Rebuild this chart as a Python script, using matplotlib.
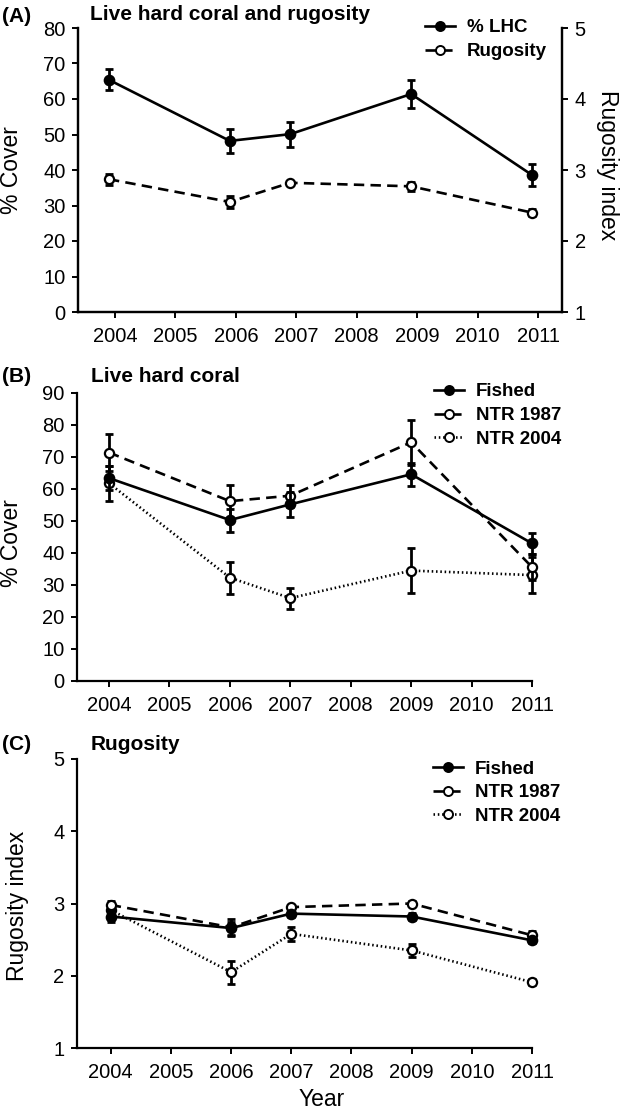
import matplotlib
matplotlib.use("Agg")
import matplotlib.pyplot as plt
from matplotlib.lines import Line2D
import numpy as np

plt.rcParams['font.family'] = ['Liberation Sans', 'DejaVu Sans']
plt.rcParams['lines.scale_dashes'] = False

years = [2004, 2006, 2007, 2009, 2011]
xticks = [2004, 2005, 2006, 2007, 2008, 2009, 2010, 2011]

# Panel A
lhc_mean = [65.4, 48.2, 50.1, 61.4, 38.6]
lhc_err = [3.0, 3.4, 3.5, 4.0, 3.2]
rug_mean = [2.87, 2.55, 2.82, 2.77, 2.40]
rug_err = [0.08, 0.09, 0.03, 0.06, 0.05]

# Panel B
b_fished = [63.4, 50.3, 55.2, 64.6, 43.0]
b_fished_err = [3.8, 3.6, 3.8, 3.6, 3.2]
b_ntr87 = [71.4, 56.2, 57.9, 74.6, 35.6]
b_ntr87_err = [5.7, 5.2, 3.5, 7.0, 4.0]
b_ntr04 = [61.8, 32.3, 25.9, 34.5, 33.1]
b_ntr04_err = [5.5, 5.0, 3.3, 7.0, 5.5]

# Panel C
c_fished = [2.82, 2.66, 2.86, 2.82, 2.49]
c_fished_err = [0.08, 0.09, 0.04, 0.05, 0.04]
c_ntr87 = [2.98, 2.67, 2.95, 3.00, 2.56]
c_ntr87_err = [0.06, 0.12, 0.03, 0.04, 0.06]
c_ntr04 = [2.91, 2.05, 2.58, 2.35, 1.91]
c_ntr04_err = [0.10, 0.16, 0.10, 0.09, 0.04]

W, H = 628, 1117
fig = plt.figure(figsize=(W / 100, H / 100), dpi=100)

def rect(l, r, t, b):
    return [l / W, 1 - b / H, (r - l) / W, (b - t) / H]

LW = 1.9
DLW = 1.9
DASH = (0, (7.5, 4.5))
DOT = (0, (1.1, 2.0))
TICKFS = 14.5
LEGFS = 13.5

def style_axis(ax, right=False):
    ax.spines['top'].set_visible(False)
    if not right:
        ax.spines['right'].set_visible(False)
    for s in ax.spines.values():
        s.set_linewidth(1.6)
    ax.tick_params(direction='out', length=4, width=1.4, labelsize=TICKFS, pad=5)
    ax.set_xticks(xticks)
    ax.set_xticklabels([str(x) for x in xticks])
    ax.tick_params(axis='x', pad=7)

def series(ax, x, y, e, ls, filled, z=3, lw=LW):
    ax.errorbar(x, y, yerr=e, fmt='none', ecolor='black', elinewidth=2.0,
                capsize=2.6, capthick=2.0, zorder=z, clip_on=False)
    ax.plot(x, y, linestyle=ls, color='black', lw=lw, marker='o',
            markersize=6.8 if filled else 6.6,
            markerfacecolor='black' if filled else 'white',
            markeredgecolor='black', markeredgewidth=1.6,
            zorder=z + 0.5, clip_on=False)

def leg_handle(ls, filled, lw=LW):
    return Line2D([], [], linestyle=ls, color='black', lw=lw, marker='o',
                  markersize=6.5, markerfacecolor='black' if filled else 'white',
                  markeredgecolor='black', markeredgewidth=1.4)

# ---------------- Panel A ----------------
axA = fig.add_axes(rect(78, 562, 28, 312))
style_axis(axA, right=True)
axA.set_xlim(2003.388, 2011.397)
axA.set_ylim(0, 80)
axA.set_yticks(range(0, 81, 10))
xa = np.array(years) - 0.1
series(axA, xa, lhc_mean, lhc_err, '-', True, z=4)
axA2 = axA.twinx()
axA2.set_ylim(1, 5)
axA2.set_yticks([1, 2, 3, 4, 5])
axA2.spines['top'].set_visible(False)
for s in axA2.spines.values():
    s.set_linewidth(1.6)
axA2.tick_params(direction='out', length=4, width=1.4, labelsize=TICKFS, pad=5)
series(axA2, xa, rug_mean, rug_err, DASH, False, z=3)
axA2.legend([leg_handle('-', True), leg_handle(DASH, False)], ['% LHC', 'Rugosity'],
            loc='upper left', bbox_to_anchor=(416 / W, 1 - 10 / H),
            bbox_transform=fig.transFigure, frameon=False, borderpad=0,
            handlelength=1.6, handletextpad=0.6, labelspacing=0.35,
            prop={'weight': 'bold', 'size': LEGFS})
fig.text(12 / W, 1 - 170 / H, '% Cover', rotation=90, ha='center', va='center', fontsize=16.5)
fig.text(607 / W, 1 - 165 / H, 'Rugosity index', rotation=270, ha='center', va='center', fontsize=16.5)
fig.text(2 / W, 1 - 16 / H, '(A)', ha='left', va='center', fontsize=15, weight='bold')
fig.text(90 / W, 1 - 15 / H, 'Live hard coral and rugosity', ha='left', va='center',
         fontsize=15, weight='bold')

# ---------------- Panel B ----------------
axB = fig.add_axes(rect(77, 532, 393, 681))
style_axis(axB)
axB.set_xlim(2003.47, 2011.0)
axB.set_ylim(0, 90)
axB.set_yticks(range(0, 91, 10))
series(axB, years, b_fished, b_fished_err, '-', True, z=5)
series(axB, years, b_ntr87, b_ntr87_err, DASH, False, z=4)
series(axB, years, b_ntr04, b_ntr04_err, DOT, False, z=3, lw=DLW)
axB.legend([leg_handle('-', True), leg_handle(DASH, False), leg_handle(DOT, False, lw=DLW)],
           ['Fished', 'NTR 1987', 'NTR 2004'],
           loc='upper left', bbox_to_anchor=(425 / W, 1 - 374 / H),
           bbox_transform=fig.transFigure, frameon=False, borderpad=0,
           handlelength=1.6, handletextpad=0.6, labelspacing=0.35,
           prop={'weight': 'bold', 'size': LEGFS})
fig.text(12 / W, 1 - 543 / H, '% Cover', rotation=90, ha='center', va='center', fontsize=16.5)
fig.text(2 / W, 1 - 377 / H, '(B)', ha='left', va='center', fontsize=15, weight='bold')
fig.text(91 / W, 1 - 376 / H, 'Live hard coral', ha='left', va='center',
         fontsize=15, weight='bold')

# ---------------- Panel C ----------------
axC = fig.add_axes(rect(77, 532, 759, 1048))
style_axis(axC)
axC.set_xlim(2003.44, 2011.0)
axC.set_ylim(1, 5)
axC.set_yticks([1, 2, 3, 4, 5])
series(axC, years, c_fished, c_fished_err, '-', True, z=5)
series(axC, years, c_ntr87, c_ntr87_err, DASH, False, z=4)
series(axC, years, c_ntr04, c_ntr04_err, DOT, False, z=3, lw=DLW)
axC.legend([leg_handle('-', True), leg_handle(DASH, False), leg_handle(DOT, False, lw=DLW)],
           ['Fished', 'NTR 1987', 'NTR 2004'],
           loc='upper left', bbox_to_anchor=(424 / W, 1 - 751 / H),
           bbox_transform=fig.transFigure, frameon=False, borderpad=0,
           handlelength=1.6, handletextpad=0.6, labelspacing=0.35,
           prop={'weight': 'bold', 'size': LEGFS})
fig.text(18 / W, 1 - 906 / H, 'Rugosity index', rotation=90, ha='center', va='center', fontsize=16.5)
fig.text(322 / W, 1 - 1100 / H, 'Year', ha='center', va='center', fontsize=16.5)
fig.text(2 / W, 1 - 744 / H, '(C)', ha='left', va='center', fontsize=15, weight='bold')
fig.text(91 / W, 1 - 745 / H, 'Rugosity', ha='left', va='center',
         fontsize=15, weight='bold')

fig.savefig('out.png', dpi=100)
